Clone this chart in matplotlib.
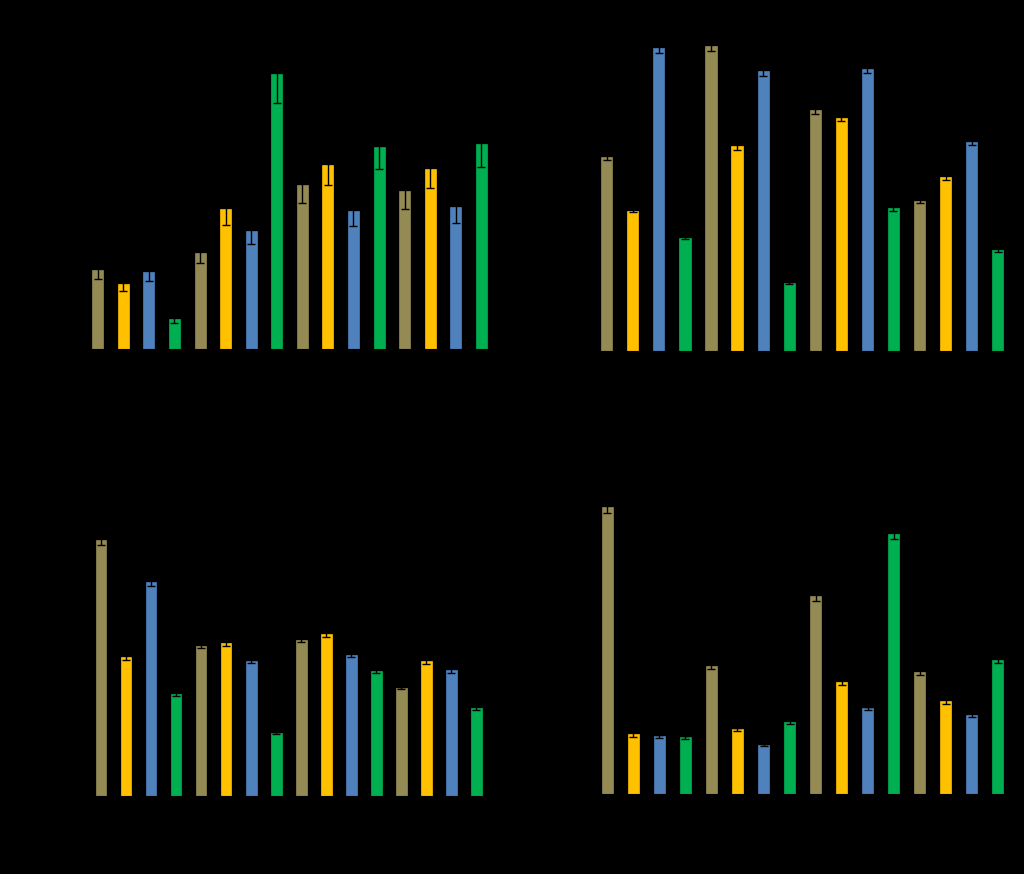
import matplotlib
matplotlib.use("Agg")
import matplotlib.pyplot as plt
import numpy as np

# four series colours, repeated across the 16 bars of each panel
series_colors = ["#948A54", "#FFC000", "#4F81BD", "#00B050"]

# panel values (ylim 0..100) and error bars
vals_a = [25.6, 20.9, 24.9, 9.6, 31.2, 45.2, 38.3, 89.0, 53.1, 59.6, 44.8, 65.3, 51.0, 58.3, 45.9, 66.2]
err_a = [2.8, 2.2, 2.8, 1.1, 3.5, 5.1, 4.3, 9.5, 5.8, 6.4, 5.0, 7.1, 5.6, 6.3, 5.0, 7.2]

vals_b = [60.3, 43.7, 94.5, 35.2, 94.9, 63.7, 87.2, 21.1, 74.9, 72.6, 87.9, 44.4, 46.7, 54.0, 65.1, 31.4]
err_b = [0.8, 0.6, 1.6, 0.5, 1.5, 1.0, 1.4, 0.4, 1.1, 1.1, 1.2, 0.8, 0.7, 0.8, 1.0, 0.6]

vals_c = [85.5, 46.4, 71.6, 34.1, 50.3, 51.2, 45.2, 21.1, 52.3, 54.2, 47.2, 41.7, 36.2, 45.2, 42.0, 29.4]
err_c = [1.6, 0.8, 1.2, 0.6, 0.7, 0.9, 0.8, 0.3, 0.9, 0.9, 0.7, 0.7, 0.4, 0.9, 0.7, 0.6]

vals_d = [90.4, 18.8, 18.2, 17.9, 40.3, 20.4, 15.4, 22.8, 62.4, 35.2, 27.0, 82.1, 38.4, 29.3, 25.0, 42.2]
err_d = [1.7, 0.7, 0.5, 0.4, 0.8, 0.4, 0.4, 0.6, 1.5, 0.7, 0.4, 1.7, 0.7, 0.8, 0.6, 0.8]

panels = [
    (vals_a, err_a, [72.2 / 1024, 0.6007, 434.7 / 1024, 0.3535]),
    (vals_b, err_b, [580.7 / 1024, 0.5988, 443.1 / 1024, 0.3669]),
    (vals_c, err_c, [76.0 / 1024, 0.0892, 425.3 / 1024, 0.3421]),
    (vals_d, err_d, [581.3 / 1024, 0.0915, 442.5 / 1024, 0.3627]),
]

fig = plt.figure(figsize=(10.24, 8.74), dpi=100, facecolor="black")

for vals, errs, rect in panels:
    ax = fig.add_axes(rect)
    ax.set_facecolor("black")
    x = np.arange(len(vals))
    colors = [series_colors[i % 4] for i in x]
    ax.bar(x, vals, width=0.43, color=colors, edgecolor=colors, linewidth=0.5,
           yerr=errs, ecolor="black", capsize=3, error_kw={"elinewidth": 1, "capthick": 1})
    ax.set_xlim(-1, 16)
    ax.set_ylim(0, 100)
    for s in ax.spines.values():
        s.set_color("black")
    ax.tick_params(colors="black")
    ax.set_xticks([])

fig.savefig("out.png", dpi=100, facecolor="black")
